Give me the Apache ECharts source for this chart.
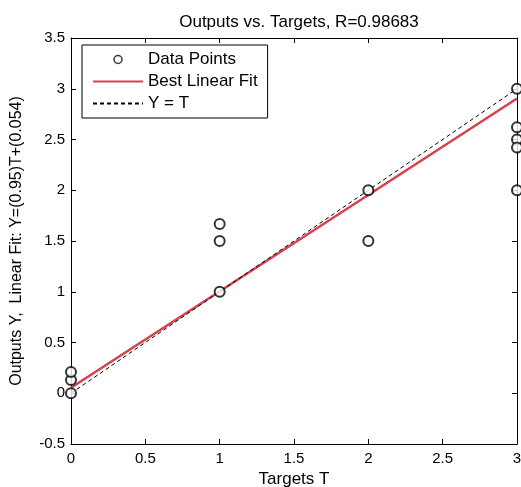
<!DOCTYPE html>
<html>
<head>
<meta charset="utf-8">
<script src="https://cdn.jsdelivr.net/npm/echarts@6/dist/echarts.min.js"></script>
<style>html,body{margin:0;padding:0;background:#fff;}#c{width:521px;height:487px;}</style>
</head>
<body>
<div id="c"></div>
<script>
var targets = [0, 0, 0, 1, 1, 1, 2, 2, 3, 3, 3, 3, 3];
var outputs = [0, 0.13, 0.21, 1.0, 1.5, 1.667, 1.5, 2.0, 3.0, 2.62, 2.5, 2.42, 2.0];
var fitLine = [[0, 0.054], [3, 2.904]];
var identityLine = [[0, 0], [3, 3]];

var points = targets.map(function (t, i) { return [t, outputs[i]]; });
var FONT = 'Liberation Sans, Arial, sans-serif';

var chart = echarts.init(document.getElementById('c'), null, {renderer: 'canvas'});
function axisCommon() {
  return {
    axisLine: {show: true, onZero: false, lineStyle: {color: '#000', width: 1}},
    axisTick: {show: true, inside: true, length: 5, lineStyle: {color: '#000'}},
    splitLine: {show: false}
  };
}
var hiddenSymbol = {opacity: 0};
chart.setOption({
  backgroundColor: '#fff',
  animation: false,
  title: {
    text: 'Outputs vs. Targets, R=0.98683',
    left: 294, top: 9, textAlign: 'center',
    textStyle: {fontFamily: FONT, fontSize: 17, fontWeight: 'normal', color: '#000'}
  },
  grid: {left: 71, right: 4, top: 38, bottom: 43, containLabel: false, outerBoundsMode: 'none'},
  legend: {
    left: 82, top: 45, orient: 'vertical',
    padding: [6, 10, 6, 10],
    itemWidth: 50, itemHeight: 14, itemGap: 5,
    borderColor: '#000', borderWidth: 1, backgroundColor: '#fff', borderRadius: 0,
    textStyle: {fontFamily: FONT, fontSize: 17, color: '#000'},
    data: [
      {name: 'Data Points',
       icon: 'path://M0,0L0,0M50,14L50,14M29,7A4,4,0,1,1,21,7A4,4,0,1,1,29,7Z',
       itemStyle: {color: '#fff', borderColor: '#000', borderWidth: 1.5}},
      {name: 'Best Linear Fit', itemStyle: hiddenSymbol},
      {name: 'Y = T', itemStyle: hiddenSymbol}
    ]
  },
  xAxis: [
    Object.assign({
      type: 'value', min: 0, max: 3, interval: 0.5, position: 'bottom',
      name: 'Targets T', nameLocation: 'middle', nameGap: 24,
      nameTextStyle: {fontFamily: FONT, fontSize: 17, color: '#000'},
      axisLabel: {fontFamily: FONT, fontSize: 15, color: '#000', margin: 7}
    }, axisCommon()),
    Object.assign({
      type: 'value', min: 0, max: 3, interval: 0.5, position: 'top',
      axisLabel: {show: false}
    }, axisCommon())
  ],
  yAxis: [
    Object.assign({
      type: 'value', min: -0.5, max: 3.5, interval: 0.5, position: 'left',
      name: 'Outputs Y,  Linear Fit: Y=(0.95)T+(0.054)', nameLocation: 'middle', nameGap: 46,
      nameTextStyle: {fontFamily: FONT, fontSize: 16, color: '#000'},
      axisLabel: {fontFamily: FONT, fontSize: 15, color: '#000', margin: 6}
    }, axisCommon()),
    Object.assign({
      type: 'value', min: -0.5, max: 3.5, interval: 0.5, position: 'right',
      axisLabel: {show: false}
    }, axisCommon())
  ],
  series: [
    {
      name: 'Best Linear Fit', type: 'line', data: fitLine,
      symbol: 'none', lineStyle: {color: '#d7404e', width: 2.5},
      itemStyle: {color: '#d7404e'}, z: 2
    },
    {
      name: 'Y = T', type: 'line', data: identityLine,
      symbol: 'none', lineStyle: {color: '#000', width: 1, type: [4, 3]},
      itemStyle: {color: '#000'}, z: 3
    },
    {
      name: 'Data Points', type: 'scatter', data: points,
      symbol: 'emptyCircle', symbolSize: 10, clip: false,
      itemStyle: {color: '#000', borderColor: '#000', borderWidth: 1.5}, z: 4
    }
  ]
});
</script>
</body>
</html>
